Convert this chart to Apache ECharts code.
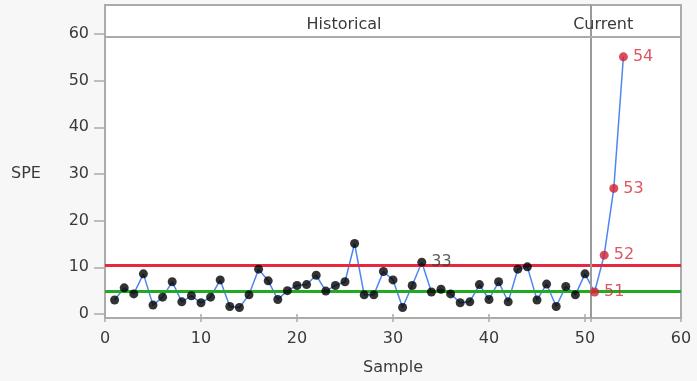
<!DOCTYPE html>
<html>
<head>
<meta charset="utf-8">
<script src="https://cdn.jsdelivr.net/npm/echarts@6/dist/echarts.min.js"></script>
<style>
  html, body { margin: 0; padding: 0; background: #f7f7f7; }
  #chart { width: 697px; height: 381px; }
</style>
</head>
<body>
<div id="chart"></div>
<script>
// SPE monitoring chart: historical samples followed by current samples
const samples = [
  1, 2, 3, 4, 5, 6, 7, 8, 9, 10,
  11, 12, 13, 14, 15, 16, 17, 18, 19, 20,
  21, 22, 23, 24, 25, 26, 27, 28, 29, 30,
  31, 32, 33, 34, 35, 36, 37, 38, 39, 40,
  41, 42, 43, 44, 45, 46, 47, 48, 49, 50,
  51, 52, 53, 54
];
const speValues = [
  3.0, 5.6, 4.3, 8.6, 1.9, 3.6, 6.9, 2.6, 3.9, 2.4,
  3.6, 7.3, 1.6, 1.4, 4.1, 9.6, 7.1, 3.1, 5.0, 6.1,
  6.3, 8.3, 4.9, 6.1, 6.9, 15.1, 4.1, 4.1, 9.1, 7.3,
  1.4, 6.1, 11.1, 4.7, 5.3, 4.3, 2.4, 2.6, 6.3, 3.1,
  6.9, 2.6, 9.6, 10.1, 3.0, 6.4, 1.6, 5.9, 4.1, 8.6,
  4.7, 12.6, 26.9, 55.1
];
const historicalCount = 50;
const labeledSamples = [33, 51, 52, 53, 54];
const upperLimit = 10.5;
const centerLine = 4.8;
const phaseBoundary = 50.6;
const phaseNames = ['Historical', 'Current'];
const phaseLabelX = [24.9, 51.9];
const xTicks = [0, 10, 20, 30, 40, 50, 60];
const yTicks = [0, 10, 20, 30, 40, 50, 60];

const FONT = 'DejaVu Sans';
const FS = 16;
const TXT = '#3a3a3a';
const FRAME = '#ababab';

const points = samples.map((s, i) => [s, speValues[i]]);
const histPts = [];
const curPts = [];
points.forEach((p, i) => {
  const item = { value: p };
  if (labeledSamples.includes(p[0])) {
    item.label = { show: true };
  }
  if (i < historicalCount) histPts.push(item); else curPts.push(item);
});

const pointLabel = {
  show: false,
  position: 'right',
  distance: 5,
  fontFamily: FONT,
  fontSize: FS,
  formatter: (p) => String(p.value[0])
};

const chart = echarts.init(document.getElementById('chart'), null, { renderer: 'canvas' });
chart.setOption({
  backgroundColor: '#f7f7f7',
  animation: false,
  grid: {
    left: 105, top: 5, width: 576, bottom: 63,
    show: true, backgroundColor: '#ffffff',
    borderColor: FRAME, borderWidth: 2
  },
  xAxis: {
    type: 'value', min: 0, max: 60,
    name: 'Sample', nameLocation: 'middle', nameGap: 42,
    nameTextStyle: { color: TXT, fontFamily: FONT, fontSize: FS },
    axisLine: { show: false },
    axisTick: {
      show: true, length: 8,
      customValues: xTicks.concat([phaseBoundary]),
      lineStyle: { color: FRAME, width: 1.5 }
    },
    axisLabel: { color: TXT, fontFamily: FONT, fontSize: FS, margin: 13, customValues: xTicks },
    splitLine: { show: false }
  },
  yAxis: {
    type: 'value', min: -0.86, max: 66.2,
    axisLine: { show: false },
    axisTick: { show: true, length: 11, customValues: yTicks, lineStyle: { color: FRAME, width: 1.5 } },
    axisLabel: { color: TXT, fontFamily: FONT, fontSize: FS, margin: 16, customValues: yTicks },
    splitLine: { show: false }
  },
  series: [
    {
      type: 'line',
      data: points,
      symbol: 'none',
      lineStyle: { color: '#4d86f2', width: 1.5 },
      z: 3,
      markLine: {
        silent: true,
        symbol: 'none',
        label: { show: false },
        data: [
          { yAxis: upperLimit, lineStyle: { color: '#e8283e', width: 3, type: 'solid' } },
          { yAxis: centerLine, lineStyle: { color: '#22aa22', width: 3, type: 'solid' } },
          { xAxis: phaseBoundary, lineStyle: { color: '#9a9a9a', width: 2, type: 'solid' } },
          { yAxis: 59.4, lineStyle: { color: FRAME, width: 2, type: 'solid' } }
        ]
      }
    },
    {
      type: 'scatter',
      data: histPts,
      symbol: 'circle',
      symbolSize: 9,
      itemStyle: { color: '#000000' },
      label: Object.assign({}, pointLabel, { color: '#333333' }),
      z: 5
    },
    {
      type: 'scatter',
      data: curPts,
      symbol: 'circle',
      symbolSize: 9,
      itemStyle: { color: '#d41f2f' },
      label: Object.assign({}, pointLabel, { color: '#d42a3a' }),
      z: 5
    }
  ]
});

// axis title and phase captions placed through the axis scales
const font = FS + 'px "' + FONT + '"';
const titleY = chart.convertToPixel({ yAxisIndex: 0 }, 30);
const graphics = [{
  type: 'text',
  left: 11,
  top: titleY - 8,
  style: { text: 'SPE', fill: TXT, font: font }
}];
phaseNames.forEach((name, i) => {
  const pos = chart.convertToPixel({ gridIndex: 0 }, [phaseLabelX[i], 62]);
  graphics.push({
    type: 'text',
    x: pos[0],
    y: pos[1],
    z: 10,
    style: { text: name, fill: TXT, font: font, align: 'center', verticalAlign: 'middle' }
  });
});
chart.setOption({ graphic: graphics });
</script>
</body>
</html>
